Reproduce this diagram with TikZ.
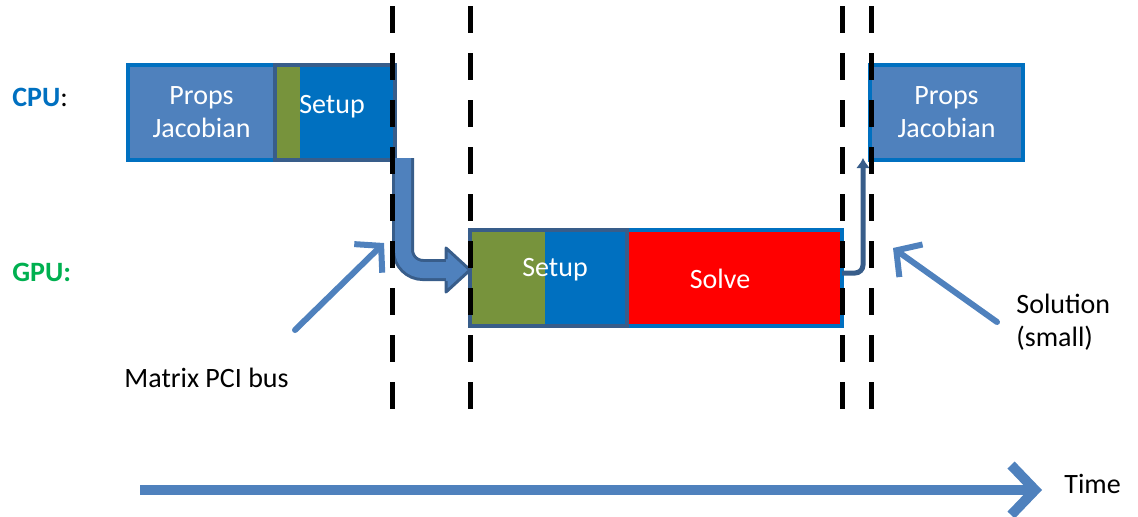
\documentclass[tikz,border=0pt]{standalone}
\usepackage{fontspec}
\setmainfont{Carlito}
\usetikzlibrary{arrows.meta,positioning}
\definecolor{cpublue}{RGB}{0,112,192}
\definecolor{boxblue}{RGB}{79,129,189}
\definecolor{edgeblue}{RGB}{56,93,138}
\definecolor{olive}{RGB}{119,147,60}
\definecolor{gpugreen}{RGB}{0,176,80}
\tikzset{
     big font/.style={font=\fontsize{14}{16.5}\selectfont},
      block/.style   = {inner sep=0pt, outer sep=0pt},
      task/.style    = {block, big font, text=white, align=center},
      frame/.style   = {draw=cpublue, line width=2pt},
      group/.style   = {draw=edgeblue, line width=2pt},
      sync/.style    = {black, line width=2.5pt, dash pattern=on 13.5pt off 10pt},
      bus/.style     = {draw=edgeblue, double=boxblue, double distance=8pt, line width=1.5pt, rounded corners=10pt},
      back/.style    = {edgeblue, line width=2.5pt, rounded corners=4pt, -{Latex[length=5pt,width=7pt]}},
      pointer/.style = {boxblue, line width=3pt, line cap=round, -{Straight Barb[length=9pt,width=20pt]}},
      timeline/.style = {boxblue, line width=5pt, -{Straight Barb[length=12pt,width=25pt]}},
      caption/.style = {big font, anchor=west, inner sep=0pt},
    }

\begin{document}
\begin{tikzpicture}[x=0.5pt,y=-0.5pt]
        \useasboundingbox (0,0) rectangle (1138,516);
        % row labels
        \node [caption] (cpu) at (12,97) {\textcolor{cpublue}{\textbf{CPU}}:};
        \node [caption, text=gpugreen] (gpu) at (12,272) {\textbf{GPU:}};

        % first CPU step
        \node [task, fill=boxblue, minimum width=73.5pt, minimum height=47.5pt] (props1) at (201.5,112.5) {Props\\Jacobian};
        \node [block, fill=olive, minimum width=12.5pt, minimum height=47.5pt, right=0pt of props1] (asm1) {};
        \node [block, fill=cpublue, minimum width=46.5pt, minimum height=47.5pt, right=0pt of asm1] (setup1) {};
        \node [task] at (332,107) {Setup};
        \draw [frame] (props1.north west) rectangle (setup1.south east);
        \draw [group] (asm1.north west) rectangle ([xshift=1pt]setup1.south east);

        % GPU step
        \node [block, fill=olive, minimum width=37.5pt, minimum height=48pt] (asm2) at (507.5,278) {};
        \node [block, fill=cpublue, minimum width=41pt, minimum height=48pt, right=0pt of asm2] (setup2) {};
        \node [block, fill=red, minimum width=107.5pt, minimum height=48pt, right=0pt of setup2] (solve) {};
        \node [task] at (555,270) {Setup};
        \node [task] at (720,279) {Solve};
        \draw [frame] (asm2.north west) rectangle (solve.south east);
        \draw [group] (asm2.north west) rectangle (setup2.south east);

        % second CPU step
        \node [task, fill=boxblue, minimum width=76.5pt, minimum height=47.5pt] (props2) at (946.5,112.5) {Props\\Jacobian};
        \draw [frame] (props2.north west) rectangle (props2.south east);

        % transfers
        \coordinate (down) at (403,158);
        \coordinate (head) at (448,270);
        \draw [bus] (down) |- (head);
        \filldraw [fill=boxblue, draw=edgeblue, line width=1.5pt, line join=round]
            (446,259) -- (446,248) -- (470,270) -- (446,292) -- (446,281);
        \draw [back] (solve.east |- 0,273) -| (863,158);

        % sync points
        \foreach \x in {392,470,842,871}
            \draw [sync] (\x,6) -- (\x,409);

        % notes
        \node [caption] (bus) at (124,378) {Matrix PCI bus};
        \node [caption, align=left] (sol) at (1016,322) {Solution\\(small)};
        \draw [pointer] (295,330) -- (384,243);
        \draw [pointer] (997,322) -- (893,248);

        % time axis
        \node [caption] (time) at (1064,484) {Time};
        \draw [timeline] (140,490) -- (1042,490);
    \end{tikzpicture}
\end{document}
